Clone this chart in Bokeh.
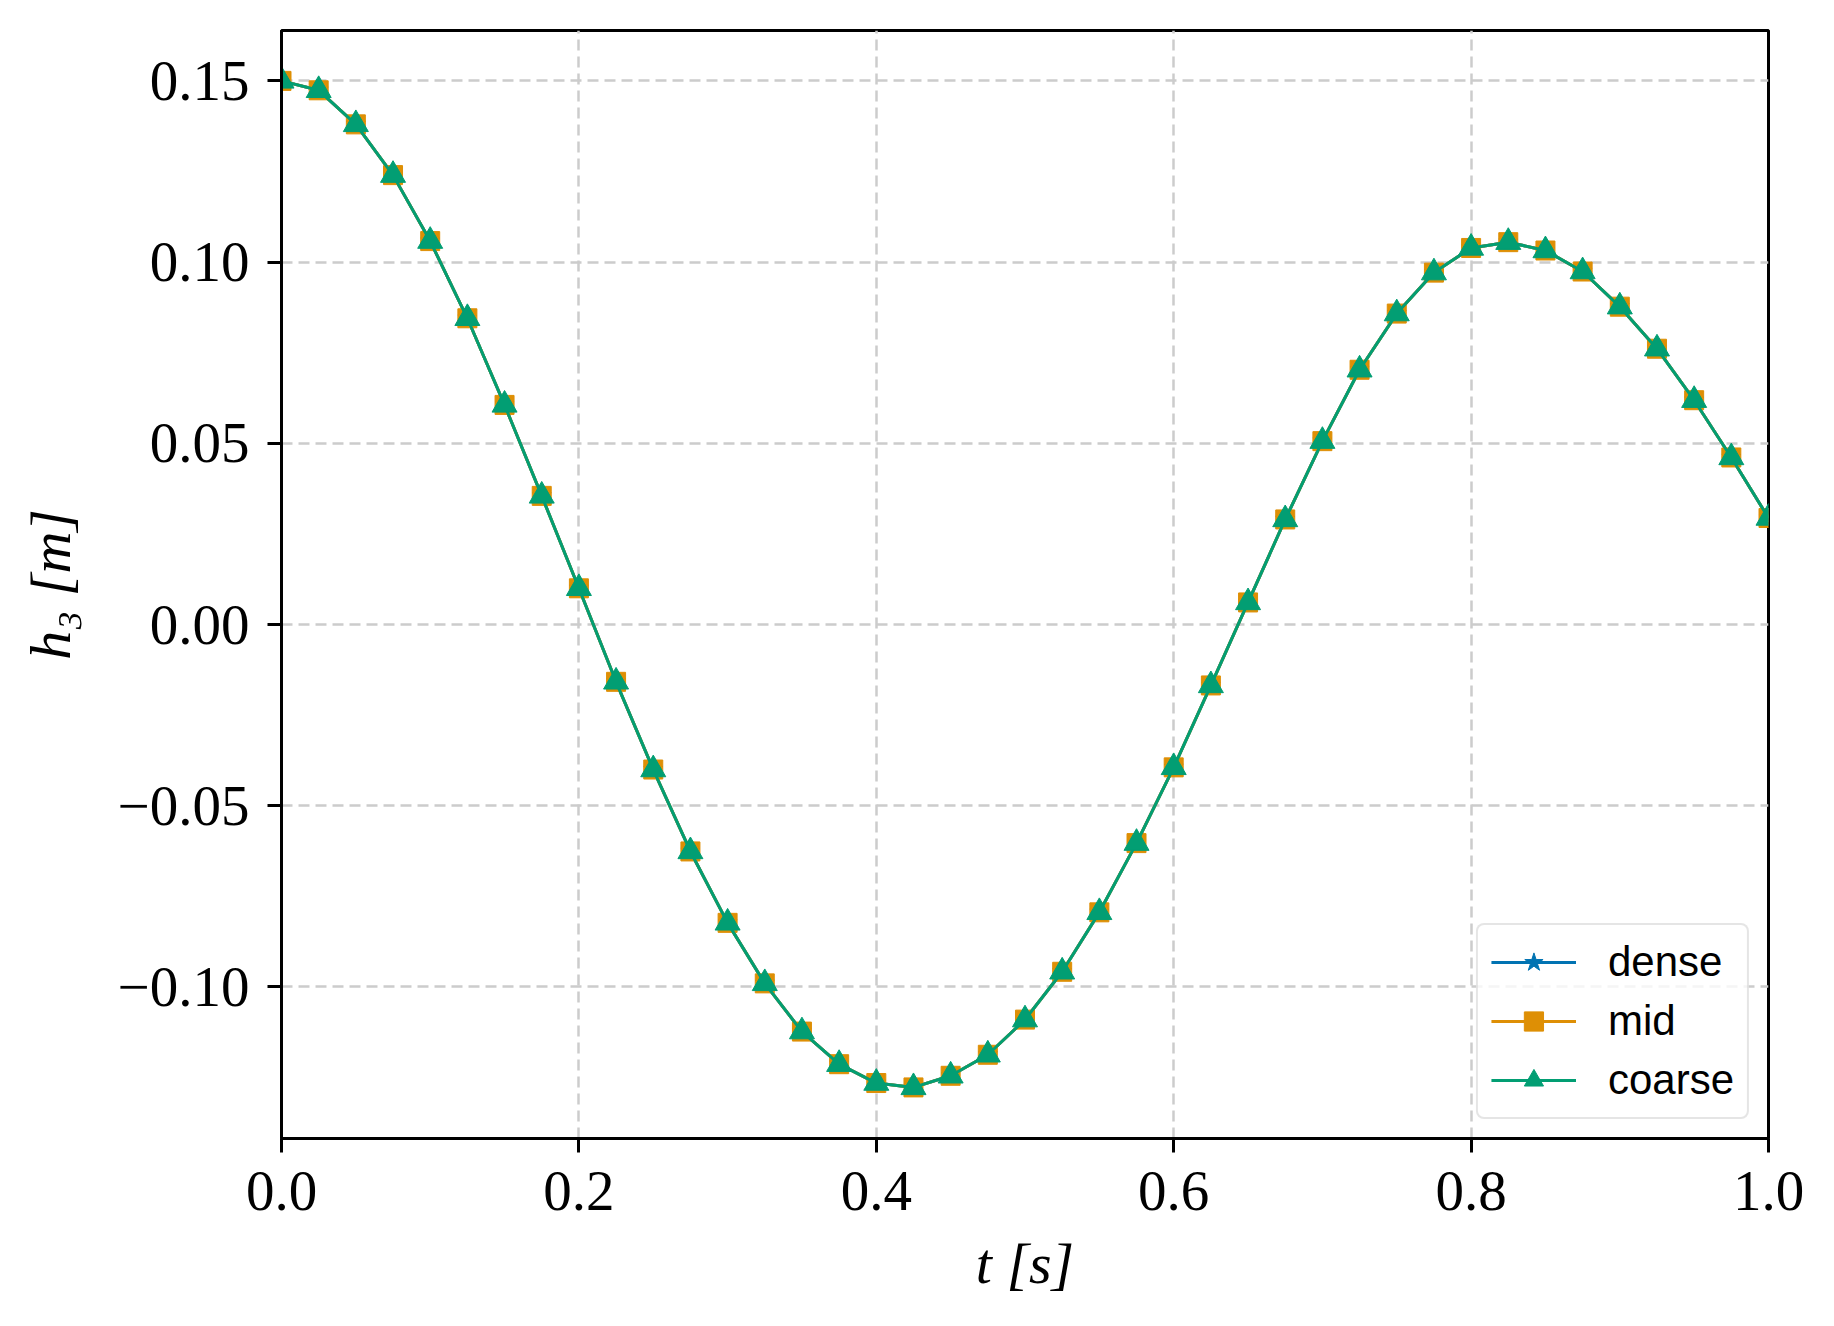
from bokeh.plotting import figure
from bokeh.models import Range1d, FixedTicker, Legend, LegendItem
from bokeh.embed import file_html
from bokeh.resources import INLINE

# ---- data ----
t = [0.0, 0.025, 0.05, 0.075, 0.1, 0.125, 0.15, 0.175, 0.2, 0.225,
     0.25, 0.275, 0.3, 0.325, 0.35, 0.375, 0.4, 0.425, 0.45, 0.475,
     0.5, 0.525, 0.55, 0.575, 0.6, 0.625, 0.65, 0.675, 0.7, 0.725,
     0.75, 0.775, 0.8, 0.825, 0.85, 0.875, 0.9, 0.925, 0.95, 0.975, 1.0]
h_dense = [0.150, 0.1474, 0.1380, 0.1240, 0.1058, 0.0845, 0.0606, 0.0355, 0.0100, -0.0158,
           -0.0400, -0.0626, -0.0823, -0.0990, -0.1123, -0.1213, -0.1265, -0.1277, -0.1245, -0.1187,
           -0.1090, -0.0958, -0.0794, -0.0603, -0.0394, -0.0168, 0.0061, 0.0290, 0.0506, 0.0703,
           0.0858, 0.0971, 0.1039, 0.1055, 0.1032, 0.0974, 0.0877, 0.0761, 0.0619, 0.0461, 0.0294]
h_mid = [0.150, 0.1474, 0.1380, 0.1240, 0.1058, 0.0845, 0.0606, 0.0355, 0.0100, -0.0158,
         -0.0400, -0.0626, -0.0823, -0.0990, -0.1123, -0.1213, -0.1265, -0.1277, -0.1245, -0.1187,
         -0.1090, -0.0958, -0.0794, -0.0603, -0.0394, -0.0168, 0.0061, 0.0290, 0.0506, 0.0703,
         0.0858, 0.0971, 0.1039, 0.1055, 0.1032, 0.0974, 0.0877, 0.0761, 0.0619, 0.0461, 0.0294]
h_coarse = [0.150, 0.1474, 0.1380, 0.1240, 0.1058, 0.0845, 0.0606, 0.0355, 0.0100, -0.0158,
            -0.0400, -0.0626, -0.0823, -0.0990, -0.1123, -0.1213, -0.1265, -0.1277, -0.1245, -0.1187,
            -0.1090, -0.0958, -0.0794, -0.0603, -0.0394, -0.0168, 0.0061, 0.0290, 0.0506, 0.0703,
            0.0858, 0.0971, 0.1039, 0.1055, 0.1032, 0.0974, 0.0877, 0.0761, 0.0619, 0.0461, 0.0294]

series_names = ["dense", "mid", "coarse"]
x_ticks = [0.0, 0.2, 0.4, 0.6, 0.8, 1.0]
x_tick_labels = ["0.0", "0.2", "0.4", "0.6", "0.8", "1.0"]
y_ticks = [-0.10, -0.05, 0.0, 0.05, 0.10, 0.15]
y_tick_labels = ["\u22120.10", "\u22120.05", "0.00", "0.05", "0.10", "0.15"]
x_label = "t [s]"
y_label = "h\u2083 [m]"

# ---- styling ----
BLUE = "#0173B2"
ORANGE = "#DE8F05"
GREEN = "#029E73"
SERIF = "Liberation Serif"
SANS = "Liberation Sans"

p = figure(width=1834, height=1326, output_backend="svg", toolbar_location=None,
           x_range=Range1d(0.0, 1.0), y_range=Range1d(-0.1418, 0.1639),
           min_border_left=281, min_border_right=66, min_border_top=30, min_border_bottom=188)

p.background_fill_color = "white"
p.border_fill_color = "white"
p.outline_line_color = "black"
p.outline_line_width = 3
p.outline_line_alpha = 1.0

for ax in (p.xaxis[0], p.yaxis[0]):
    ax.axis_line_width = 3
    ax.axis_line_color = "black"
    ax.major_tick_line_width = 3
    ax.major_tick_line_color = "black"
    ax.major_tick_out = 14
    ax.major_tick_in = 0
    ax.minor_tick_line_color = None
    ax.major_label_text_font = SERIF
    ax.major_label_text_font_size = "57px"
    ax.major_label_text_color = "black"
    ax.axis_label_text_font = SERIF
    ax.axis_label_text_font_size = "58px"
    ax.axis_label_text_font_style = "italic"
    ax.axis_label_text_color = "black"

p.xaxis.ticker = FixedTicker(ticks=x_ticks)
p.yaxis.ticker = FixedTicker(ticks=y_ticks)
p.xaxis.major_label_overrides = dict(zip(x_ticks, x_tick_labels))
p.yaxis.major_label_overrides = dict(zip(y_ticks, y_tick_labels))
p.xaxis.major_label_standoff = 19
p.yaxis.major_label_standoff = 18
p.xaxis.axis_label = x_label
p.yaxis.axis_label = y_label
p.xaxis.axis_label_standoff = 18
p.yaxis.axis_label_standoff = 32

for g in (p.xgrid[0], p.ygrid[0]):
    g.grid_line_color = "#cccccc"
    g.grid_line_width = 2.5
    g.grid_line_dash = "11 6"

# ---- series ----
l1 = p.line(t, h_dense, line_color=BLUE, line_width=3)
s1 = p.scatter(t, h_dense, marker="star", size=20, fill_color=BLUE, line_color=BLUE)
l2 = p.line(t, h_mid, line_color=ORANGE, line_width=3)
s2 = p.scatter(t, h_mid, marker="square", size=19, fill_color=ORANGE, line_color=ORANGE)
l3 = p.line(t, h_coarse, line_color=GREEN, line_width=3)
s3 = p.scatter(t, h_coarse, marker="triangle", size=25, fill_color=GREEN, line_color=GREEN)

legend = Legend(items=[LegendItem(label=series_names[0], renderers=[l1, s1]),
                       LegendItem(label=series_names[1], renderers=[l2, s2]),
                       LegendItem(label=series_names[2], renderers=[l3, s3])],
                location="bottom_right")
legend.label_text_font = SANS
legend.label_text_font_size = "42px"
legend.label_text_color = "black"
legend.label_height = 48
legend.glyph_height = 48
legend.glyph_width = 85
legend.label_standoff = 32
legend.spacing = 11
legend.padding = 13
legend.margin = 19
legend.border_line_color = "#cccccc"
legend.border_line_width = 2.5
legend.background_fill_color = "white"
legend.background_fill_alpha = 0.8
if "border_radius" in legend.properties():
    legend.border_radius = 8
p.add_layout(legend, "center")

open("out.html", "w").write(file_html(p, INLINE))
